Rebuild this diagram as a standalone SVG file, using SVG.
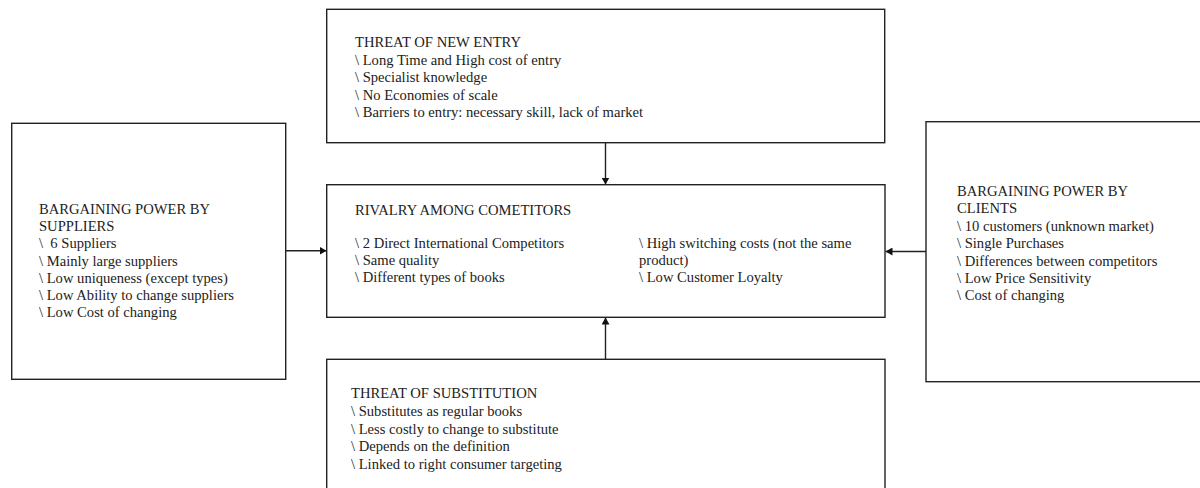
<svg xmlns="http://www.w3.org/2000/svg" width="1200" height="488" viewBox="0 0 1200 488">
<defs>
<style>
.box{fill:#fff;stroke:#222;stroke-width:1.4}
.t{font-family:"Liberation Serif","Times New Roman",serif;font-size:14.6px;fill:#222}
.c{stroke:#222;stroke-width:1.4;fill:none}
</style>
<marker id="ah" markerWidth="8" markerHeight="8" refX="7" refY="4" orient="auto" markerUnits="userSpaceOnUse">
<path d="M0,0 L7,4 L0,8 Z" fill="#111"/>
</marker>
</defs>
<rect width="1200" height="488" fill="#fff"/>
<g id="connectors">
<line class="c" x1="605.5" y1="142.7" x2="605.5" y2="184.5" marker-end="url(#ah)"/>
<line class="c" x1="605.5" y1="359.3" x2="605.5" y2="317.5" marker-end="url(#ah)"/>
<line class="c" x1="285.7" y1="250.7" x2="326.5" y2="250.7" marker-end="url(#ah)"/>
<line class="c" x1="926" y1="251.5" x2="885.5" y2="251.5" marker-end="url(#ah)"/>
</g>
<g id="new-entry">
<rect class="box" x="326.7" y="9.3" width="558" height="133.4"/>
<text class="t" x="355" y="47">THREAT OF NEW ENTRY</text>
<text class="t" x="355" y="64.5">\ Long Time and High cost of entry</text>
<text class="t" x="355" y="82">\ Specialist knowledge</text>
<text class="t" x="355" y="99.5">\ No Economies of scale</text>
<text class="t" x="355" y="117">\ Barriers to entry: necessary skill, lack of market</text>
</g>
<g id="suppliers">
<rect class="box" x="11.7" y="123.3" width="274" height="256"/>
<text class="t" x="39" y="214">BARGAINING POWER BY</text>
<text class="t" x="39" y="231">SUPPLIERS</text>
<text class="t" x="39" y="248">\&#160; 6 Suppliers</text>
<text class="t" x="39" y="265.5">\ Mainly large suppliers</text>
<text class="t" x="39" y="283">\ Low uniqueness (except types)</text>
<text class="t" x="39" y="300">\ Low Ability to change suppliers</text>
<text class="t" x="39" y="317">\ Low Cost of changing</text>
</g>
<g id="rivalry">
<rect class="box" x="326.7" y="184.7" width="558.3" height="132.6"/>
<text class="t" x="355" y="215">RIVALRY AMONG COMETITORS</text>
<text class="t" x="355" y="248">\ 2 Direct International Competitors</text>
<text class="t" x="355" y="265">\ Same quality</text>
<text class="t" x="355" y="282">\ Different types of books</text>
<text class="t" x="639" y="248">\ High switching costs (not the same</text>
<text class="t" x="639" y="265">product)</text>
<text class="t" x="639" y="282">\ Low Customer Loyalty</text>
</g>
<g id="clients">
<rect class="box" x="926" y="121.7" width="290" height="260"/>
<text class="t" x="957" y="196">BARGAINING POWER BY</text>
<text class="t" x="957" y="213">CLIENTS</text>
<text class="t" x="957" y="231">\ 10 customers (unknown market)</text>
<text class="t" x="957" y="248">\ Single Purchases</text>
<text class="t" x="957" y="266">\ Differences between competitors</text>
<text class="t" x="957" y="283">\ Low Price Sensitivity</text>
<text class="t" x="957" y="300">\ Cost of changing</text>
</g>
<g id="substitution">
<rect class="box" x="326.7" y="359.3" width="558.3" height="140"/>
<text class="t" x="351" y="398">THREAT OF SUBSTITUTION</text>
<text class="t" x="351" y="416">\ Substitutes as regular books</text>
<text class="t" x="351" y="433.5">\ Less costly to change to substitute</text>
<text class="t" x="351" y="451">\ Depends on the definition</text>
<text class="t" x="351" y="469">\ Linked to right consumer targeting</text>
</g>
</svg>
